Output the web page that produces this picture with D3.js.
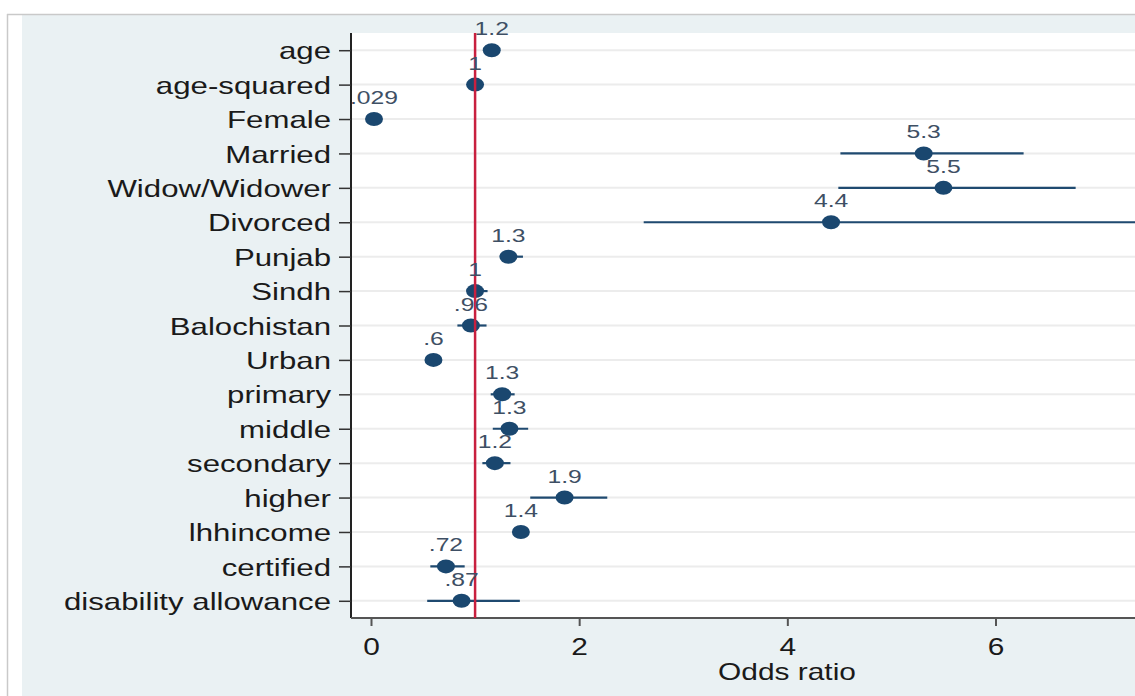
<!DOCTYPE html>
<html>
<head>
<meta charset="utf-8">
<script src="https://cdn.jsdelivr.net/npm/d3@7"></script>
<style>
  body { margin: 0; background: #fff; }
  svg { display: block; font-family: 'Liberation Sans', Arial, sans-serif; }
</style>
</head>
<body>
<svg id="chart"></svg>
<script>
const variables = ['age', 'age-squared', 'Female', 'Married', 'Widow/Widower', 'Divorced', 'Punjab', 'Sindh',
  'Balochistan', 'Urban', 'primary', 'middle', 'secondary', 'higher', 'lhhincome', 'certified', 'disability allowance']
const oddsRatio = [1.16, 1.0, 0.029, 5.31, 5.5, 4.42, 1.32, 1.0, 0.96, 0.6, 1.26, 1.33, 1.19, 1.86, 1.44, 0.72, 0.87]
const ciLow = [1.14, 0.99, 0.01, 4.51, 4.49, 2.62, 1.24, 0.92, 0.83, 0.55, 1.15, 1.17, 1.07, 1.53, 1.4, 0.57, 0.54]
const ciHigh = [1.18, 1.01, 0.06, 6.27, 6.77, 7.6, 1.46, 1.12, 1.11, 0.66, 1.38, 1.51, 1.34, 2.27, 1.49, 0.9, 1.43]
const xTicks = [0, 2, 4, 6]

const data = variables.map((v, i) => ({ name: v, or: oddsRatio[i], lo: ciLow[i], hi: ciHigh[i] }))

const W = 1135
const H = 696
const plot = { left: 351, right: 1135, top: 33, bottom: 618 }
const stretch = 1.3 // the source image is stretched sideways

const svg = d3.select('#chart').attr('width', W).attr('height', H)

// outer frame + light blue background
svg.append('rect').attr('x', 22).attr('y', 15).attr('width', W - 22).attr('height', H - 15).attr('fill', '#eaf1f3')
svg.append('line').attr('x1', 7).attr('x2', W).attr('y1', 14.5).attr('y2', 14.5).attr('stroke', '#c9c9c9').attr('stroke-width', 1.5)
svg.append('line').attr('x1', 7.5).attr('x2', 7.5).attr('y1', 14).attr('y2', H).attr('stroke', '#c9c9c9').attr('stroke-width', 1.5)

// plot region
svg.append('rect')
  .attr('x', plot.left).attr('y', plot.top)
  .attr('width', plot.right - plot.left).attr('height', plot.bottom - plot.top)
  .attr('fill', '#fff')

const x = d3.scaleLinear().domain([0, 6]).range([371, 995.5])
const y = d3.scalePoint().domain(variables).range([plot.top, plot.bottom]).padding(0.5)

// horizontal grid
svg.append('g')
  .selectAll('line')
  .data(variables)
  .join('line')
  .attr('x1', plot.left)
  .attr('x2', plot.right)
  .attr('y1', (d) => y(d))
  .attr('y2', (d) => y(d))
  .attr('stroke', '#ececec')
  .attr('stroke-width', 2)

// y axis
const yAxis = svg.append('g')
  .attr('transform', `translate(${plot.left},0)`)
  .call(d3.axisLeft(y).tickSize(12).tickPadding(8))
yAxis.select('.domain').attr('stroke', '#222').attr('stroke-width', 2).attr('d', `M0,${plot.top}V${plot.bottom}`)
yAxis.selectAll('.tick line').attr('stroke', '#333').attr('stroke-width', 1.5)
yAxis.selectAll('.tick text')
  .attr('font-size', 24)
  .attr('fill', '#1a1a1a')
  .attr('dy', '0.36em')
  .attr('x', -20 / stretch)
  .attr('transform', `scale(${stretch},1)`)

// x axis
const xAxis = svg.append('g')
  .attr('transform', `translate(0,${plot.bottom})`)
  .call(d3.axisBottom(x).tickValues(xTicks).tickSize(8).tickPadding(13).tickFormat(d3.format('d')))
xAxis.select('.domain').attr('stroke', '#555').attr('stroke-width', 2).attr('d', `M${plot.left},0H${plot.right}`)
xAxis.selectAll('.tick line').attr('stroke', '#555').attr('stroke-width', 2)
xAxis.selectAll('.tick text')
  .attr('font-size', 23)
  .attr('fill', '#1a1a1a')
  .attr('transform', `scale(${stretch},1)`)

svg.append('text')
  .attr('transform', `translate(787,680) scale(${stretch},1)`)
  .attr('text-anchor', 'middle')
  .attr('font-size', 23)
  .attr('fill', '#1a1a1a')
  .text('Odds ratio')

// confidence intervals
svg.append('g')
  .selectAll('line')
  .data(data)
  .join('line')
  .attr('x1', (d) => x(d.lo))
  .attr('x2', (d) => x(d.hi))
  .attr('y1', (d) => y(d.name))
  .attr('y2', (d) => y(d.name))
  .attr('stroke', '#1f4a70')
  .attr('stroke-width', 2.2)

// point estimates
svg.append('g')
  .selectAll('ellipse')
  .data(data)
  .join('ellipse')
  .attr('cx', (d) => x(d.or))
  .attr('cy', (d) => y(d.name))
  .attr('rx', 9)
  .attr('ry', 7)
  .attr('fill', '#1a476f')

// reference line at OR = 1
svg.append('line')
  .attr('x1', x(1))
  .attr('x2', x(1))
  .attr('y1', plot.top)
  .attr('y2', plot.bottom)
  .attr('stroke', '#c8203f')
  .attr('stroke-width', 2.5)

// value labels
const fmt = (v) => d3.format('.2~g')(v).replace(/^0\./, '.')
svg.append('g')
  .selectAll('text')
  .data(data)
  .join('text')
  .attr('transform', (d) => `translate(${x(d.or)},${y(d.name) - 15}) scale(${stretch},1)`)
  .attr('text-anchor', 'middle')
  .attr('font-size', 19)
  .attr('fill', '#3e4f64')
  .text((d) => fmt(d.or))
</script>
</body>
</html>
